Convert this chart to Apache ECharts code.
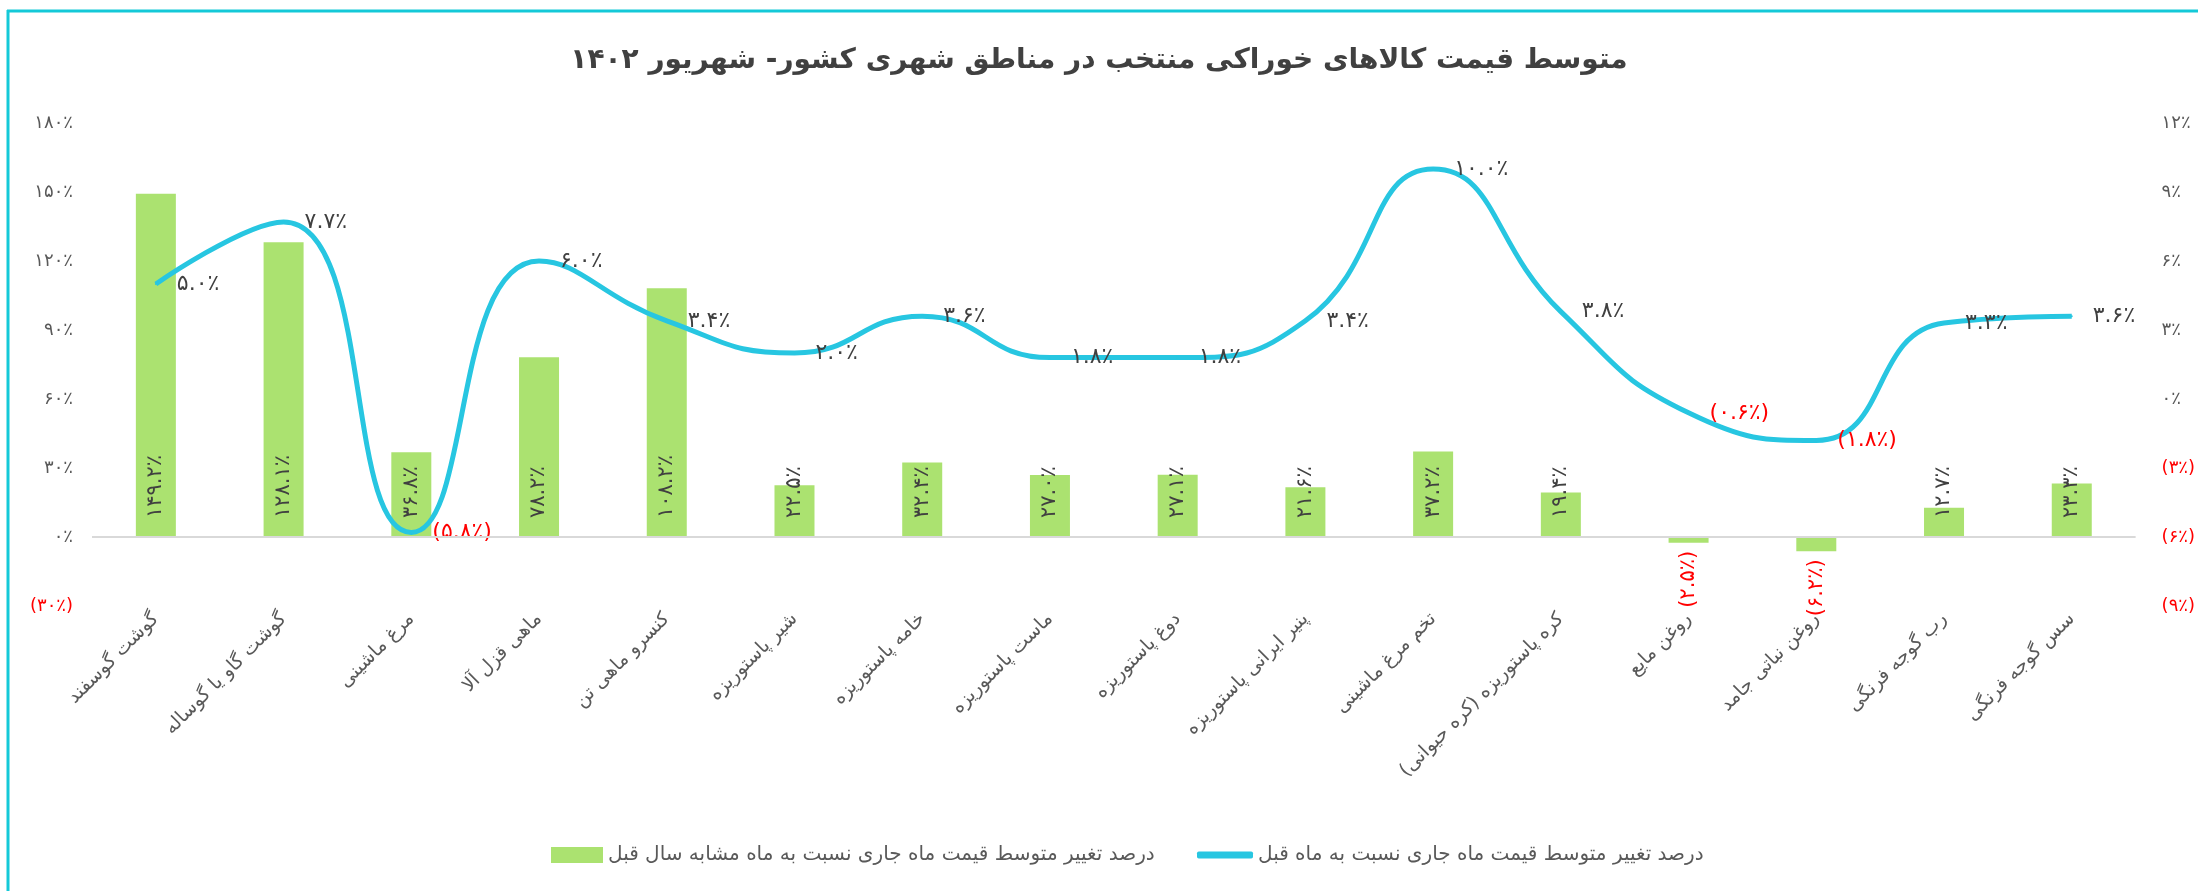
<!DOCTYPE html>
<html>
<head>
<meta charset="utf-8">
<title>chart</title>
<script src="https://cdn.jsdelivr.net/npm/echarts@6/dist/echarts.min.js"></script>
<style>
  html, body { margin: 0; padding: 0; background: #fff; }
  #main { width: 2198px; height: 891px; }
</style>
</head>
<body>
<div id="main"></div>
<script>
// categories (left to right as in the picture)
const categories = [
  'گوشت گوسفند',
  'گوشت گاو یا گوساله',
  'مرغ ماشینی',
  'ماهی قزل آلا',
  'کنسرو ماهی تن',
  'شیر پاستوریزه',
  'خامه پاستوریزه',
  'ماست پاستوریزه',
  'دوغ پاستوریزه',
  'پنیر ایرانی پاستوریزه',
  'تخم مرغ ماشینی',
  'کره پاستوریزه (کره حیوانی)\u200F',
  'روغن مایع',
  'روغن نباتی جامد',
  'رب گوجه فرنگی',
  'سس گوجه فرنگی'
]
// change vs same month last year (left axis)
const yearlyChange = [149.2, 128.1, 36.8, 78.2, 108.2, 22.5, 32.4, 27.0, 27.1, 21.6, 37.2, 19.4, -2.5, -6.2, 12.7, 23.3]
// change vs previous month (right axis)
const monthlyChange = [5.0, 7.7, -5.8, 6.0, 3.4, 2.0, 3.6, 1.8, 1.8, 3.4, 10.0, 3.8, -0.6, -1.8, 3.3, 3.6]
// tick labels
const leftTicks = [-30, 0, 30, 60, 90, 120, 150, 180]
const rightTicks = [-9, -6, -3, 0, 3, 6, 9, 12]

const barName = 'درصد تغییر متوسط قیمت ماه جاری نسبت به ماه مشابه سال قبل'
const lineName = 'درصد تغییر متوسط قیمت ماه جاری نسبت به ماه قبل'
const titleText = 'متوسط قیمت کالاهای خوراکی منتخب در مناطق شهری کشور- شهریور ۱۴۰۲'

const FONT = 'DejaVu Sans'
const RED = '#FF0000'
const GREEN = '#ABE270'
const CYAN = '#27C6E1'

function fa(s) {
  return String(s).replace(/[0-9]/g, d => '۰۱۲۳۴۵۶۷۸۹'[d])
}
function pct(v, digits) {
  const t = fa(Math.abs(v).toFixed(digits)) + '٪'
  return v < 0 ? '(' + t + ')' : t
}

const chart = echarts.init(document.getElementById('main'))

const barData = yearlyChange.map(v => {
  if (v >= 0) return v
  return {
    value: v,
    label: {
      position: 'bottom',
      distance: 8,
      align: 'right',
      verticalAlign: 'middle',
      color: RED
    }
  }
})

const lineData = monthlyChange.map(v => v < 0 ? { value: v, label: { color: RED } } : v)

const option = {
  backgroundColor: '#fff',
  textStyle: { fontFamily: FONT },
  title: {
    text: titleText,
    left: 'center',
    top: 42,
    padding: [5, 5, 5, 30],
    textStyle: { fontFamily: FONT, fontSize: 28, fontWeight: 'bold', color: '#404040' }
  },
  graphic: [
    { type: 'line', shape: { x1: 7, y1: 11, x2: 2198, y2: 11 }, style: { stroke: '#14C9D8', lineWidth: 3 } },
    { type: 'line', shape: { x1: 8, y1: 10, x2: 8, y2: 891 }, style: { stroke: '#14C9D8', lineWidth: 3 } }
  ],
  legend: [
    {
      data: [{ name: barName, icon: 'rect' }],
      left: 546,
      top: 840,
      itemWidth: 52,
      itemHeight: 16,
      itemGap: 5,
      textStyle: { fontFamily: FONT, fontSize: 20, color: '#595959' }
    },
    {
      data: [{ name: lineName, icon: 'roundRect' }],
      left: 1192,
      top: 840,
      itemWidth: 56,
      itemHeight: 7,
      textStyle: { fontFamily: FONT, fontSize: 20, color: '#595959' }
    }
  ],
  grid: { left: 92, right: 55, top: 123, bottom: 285 },
  xAxis: {
    type: 'category',
    data: categories,
    axisLine: { show: false, onZero: false },
    axisTick: { show: false },
    axisLabel: {
      interval: 0,
      rotate: 45,
      margin: 10,
      fontSize: 19,
      color: '#595959',
      fontFamily: FONT
    }
  },
  yAxis: [
    {
      type: 'value',
      min: leftTicks[0],
      max: leftTicks[leftTicks.length - 1],
      interval: leftTicks[1] - leftTicks[0],
      splitLine: { show: false },
      axisLine: { show: false },
      axisTick: { show: false },
      axisLabel: {
        margin: 19,
        fontSize: 18,
        fontFamily: FONT,
        formatter: v => pct(v, 0),
        color: v => (Number(v) < 0 ? RED : '#595959')
      }
    },
    {
      type: 'value',
      min: rightTicks[0],
      max: rightTicks[rightTicks.length - 1],
      interval: rightTicks[1] - rightTicks[0],
      splitLine: { show: false },
      axisLine: { show: false },
      axisTick: { show: false },
      axisLabel: {
        margin: 26,
        fontSize: 18,
        fontFamily: FONT,
        formatter: v => pct(v, 0),
        color: v => (Number(v) < 0 ? RED : '#595959')
      }
    }
  ],
  series: [
    {
      name: barName,
      type: 'bar',
      yAxisIndex: 0,
      data: barData,
      barWidth: 40,
      itemStyle: { color: GREEN },
      label: {
        show: true,
        position: 'insideBottom',
        distance: 19,
        rotate: 90,
        align: 'left',
        verticalAlign: 'middle',
        fontSize: 21,
        fontFamily: FONT,
        color: '#404040',
        formatter: p => pct(p.value, 1)
      },
      markLine: {
        silent: true,
        symbol: 'none',
        label: { show: false },
        lineStyle: { color: '#D9D9D9', width: 2, type: 'solid' },
        data: [{ yAxis: 0 }]
      },
      z: 2
    },
    {
      name: lineName,
      type: 'line',
      yAxisIndex: 1,
      data: lineData,
      smooth: 0.5,
      symbol: 'circle',
      symbolSize: 2,
      lineStyle: { color: CYAN, width: 5 },
      itemStyle: { color: CYAN },
      label: {
        show: true,
        position: 'right',
        distance: 20,
        fontSize: 22,
        fontFamily: FONT,
        color: '#404040',
        formatter: p => pct(p.value, 1)
      },
      z: 3
    }
  ]
}

chart.setOption(option)
</script>
</body>
</html>
